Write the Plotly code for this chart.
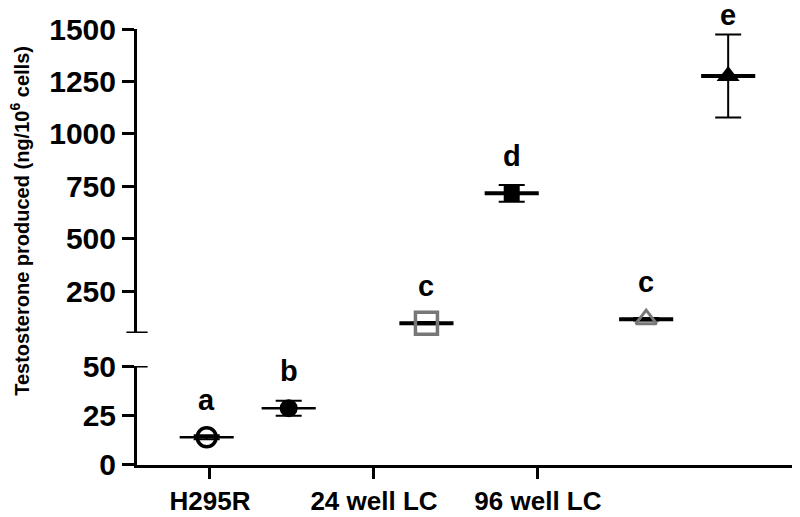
import plotly.graph_objects as go

# ---- data ----
groups = ["H295R", "24 well LC", "96 well LC"]
group_ticks = [1, 2, 3]
point_x = [0.98, 1.48, 2.32, 2.84, 3.66, 4.16]
means = [14, 28.7, 97, 716, 116, 1276]
errs = [1.0, 3.8, 5, 40, 6, 198]
letters = ["a", "b", "c", "d", "c", "e"]
axis_of = ["y", "y", "y2", "y2", "y2", "y2"]

# ---- styles ----
symbols = ["circle-open", "circle", "square-open", "square", "triangle-up-open", "triangle-up"]
mcolors = ["black", "black", "#777777", "black", "#777777", "black"]
msizes = [19, 18, 22, 16, 18, 20]
mlines = [3.5, 0, 3.5, 0, 3, 0]
bar_thick = [2.5, 2.5, 4, 4, 4, 4]
half_bar = 0.165

FONT = "Liberation Sans, Arial, sans-serif"

# page has an 8px body margin, so the figure is 8px smaller than the window
W, H = 792, 509
ML, MT, MB = 129, 21, 52

lower_dom = [0, 0.227]
upper_dom = [0.3028, 1]
lower_rng = [0, 50]
upper_rng = [50, 1500]
plot_h = H - MT - MB

fig = go.Figure()
for i in range(len(means)):
    fig.add_trace(go.Scatter(
        x=[point_x[i]], y=[means[i]], yaxis=axis_of[i], mode="markers",
        marker=dict(symbol=symbols[i], color=mcolors[i], size=msizes[i],
                    line=dict(color=mcolors[i], width=mlines[i])),
        error_y=dict(type="data", array=[errs[i]], color="black", thickness=2, width=13),
        error_x=dict(type="data", array=[half_bar], color="black", thickness=bar_thick[i], width=0),
        showlegend=False, cliponaxis=False,
    ))

# letters
for i in range(len(means)):
    if axis_of[i] == "y":
        ppu = (lower_dom[1] - lower_dom[0]) * plot_h / (lower_rng[1] - lower_rng[0])
    else:
        ppu = (upper_dom[1] - upper_dom[0]) * plot_h / (upper_rng[1] - upper_rng[0])
    shift = max(37, errs[i] * ppu + 19)
    fig.add_annotation(x=point_x[i], y=means[i], xref="x", yref=axis_of[i],
                       text="<b>%s</b>" % letters[i], showarrow=False,
                       yanchor="middle", yshift=shift,
                       font=dict(family=FONT, size=29, color="black"))

# y title spanning both segments
fig.add_annotation(x=-0.1765, y=0.56, xref="paper", yref="paper",
                   text="<b>Testosterone produced (ng/10<sup>6</sup> cells)</b>",
                   textangle=-90, showarrow=False, xanchor="center", yanchor="middle",
                   font=dict(family=FONT, size=20, color="black"))

# axis break marks
fig.add_shape(type="line", xref="paper", yref="y2", x0=-0.016, x1=0.016,
              y0=upper_rng[0], y1=upper_rng[0], line=dict(color="black", width=3))
fig.add_shape(type="line", xref="paper", yref="y", x0=0, x1=0.016,
              y0=lower_rng[1], y1=lower_rng[1], line=dict(color="black", width=3))

axis_common = dict(showline=True, linecolor="black", linewidth=3, ticks="outside",
                   ticklen=12, tickwidth=3, tickcolor="black", showgrid=False,
                   zeroline=False, automargin=False,
                   tickfont=dict(family=FONT, size=30, color="black", weight="bold"))

fig.update_layout(
    width=W, height=H,
    margin=dict(l=ML, r=0, t=MT, b=MB),
    paper_bgcolor="white", plot_bgcolor="white",
    xaxis=dict(range=[0.555, 4.598], tickvals=group_ticks, ticktext=groups,
               **{**axis_common, "ticklen": 11,
                  "tickfont": dict(family=FONT, size=26, color="black", weight="bold")}),
    yaxis=dict(domain=lower_dom, range=lower_rng, tickvals=[0, 25, 50], **axis_common),
    yaxis2=dict(domain=upper_dom, range=upper_rng, anchor="x",
                tickvals=[250, 500, 750, 1000, 1250, 1500], **axis_common),
)

fig.write_html("out.html")
